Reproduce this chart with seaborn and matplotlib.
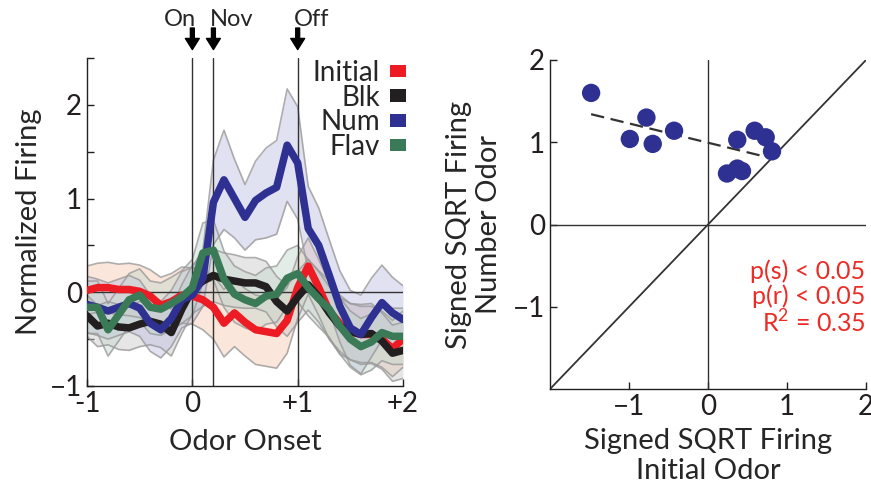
import numpy as np
import pandas as pd
import seaborn as sns
import matplotlib.pyplot as plt
from matplotlib.patches import Patch

# ---- left panel: mean normalized firing around odor onset (step 0.1 s)
time = np.round(np.arange(-1.0, 2.01, 0.1), 2)

initial = [0.02, 0.05, 0.05, 0.03, 0.03, 0.01, -0.04, -0.14, -0.10, -0.03,
           -0.04, -0.08, -0.16, -0.33, -0.22, -0.32, -0.40, -0.42, -0.44, -0.30,
           0.05, 0.28, 0.05, -0.20, -0.33, -0.42, -0.45, -0.45, -0.50, -0.60, -0.50]
blk = [-0.25, -0.36, -0.33, -0.37, -0.38, -0.34, -0.31, -0.34, -0.43, -0.18,
       0.03, 0.12, 0.18, 0.14, 0.12, 0.10, 0.10, 0.06, -0.10, -0.20,
       -0.05, 0.08, -0.05, -0.22, -0.36, -0.42, -0.45, -0.44, -0.52, -0.65, -0.62]
num = [-0.13, -0.16, -0.20, -0.16, -0.12, -0.17, -0.33, -0.40, -0.28, -0.08,
       -0.03, 0.15, 0.96, 1.20, 1.00, 0.80, 0.98, 1.06, 1.12, 1.57,
       1.38, 0.68, 0.50, 0.18, -0.15, -0.38, -0.45, -0.27, -0.11, -0.22, -0.29]
flav = [-0.16, -0.16, -0.40, -0.24, -0.08, -0.03, -0.16, -0.18, -0.12, -0.05,
        0.05, 0.42, 0.45, 0.14, -0.02, -0.08, -0.12, -0.04, -0.02, 0.15,
        0.20, 0.05, -0.07, -0.18, -0.36, -0.50, -0.58, -0.53, -0.43, -0.47, -0.47]

# standard errors (band half widths)
initial_se = [0.26, 0.26, 0.27, 0.27, 0.28, 0.28, 0.28, 0.30, 0.30, 0.30,
              0.30, 0.32, 0.34, 0.36, 0.36, 0.36, 0.37, 0.37, 0.37, 0.35,
              0.33, 0.30, 0.30, 0.30, 0.30, 0.30, 0.30, 0.30, 0.30, 0.30, 0.30]
blk_se = [0.22, 0.22, 0.23, 0.24, 0.24, 0.24, 0.25, 0.25, 0.25, 0.26,
          0.26, 0.27, 0.28, 0.28, 0.28, 0.27, 0.27, 0.27, 0.27, 0.27,
          0.27, 0.27, 0.27, 0.28, 0.30, 0.30, 0.32, 0.32, 0.30, 0.30, 0.30]
num_se = [0.30, 0.30, 0.30, 0.30, 0.30, 0.30, 0.30, 0.30, 0.30, 0.30,
          0.30, 0.30, 0.45, 0.53, 0.42, 0.35, 0.42, 0.48, 0.50, 0.60,
          0.60, 0.45, 0.40, 0.38, 0.38, 0.40, 0.42, 0.42, 0.40, 0.38, 0.36]
flav_se = [0.28, 0.28, 0.28, 0.28, 0.28, 0.28, 0.28, 0.28, 0.28, 0.28,
           0.30, 0.32, 0.32, 0.30, 0.30, 0.30, 0.30, 0.30, 0.30, 0.30,
           0.30, 0.30, 0.30, 0.30, 0.30, 0.30, 0.30, 0.30, 0.30, 0.30, 0.30]

series = ["Initial", "Blk", "Num", "Flav"]
means = [initial, blk, num, flav]
sems = [initial_se, blk_se, num_se, flav_se]
line_colors = ["#ed1c24", "#231f20", "#2e3192", "#3b7a57"]
band_colors = ["#f7c9b3", "#c9c9c9", "#bcbde0", "#c3d8cc"]

events = [0.0, 0.2, 1.0]
event_labels = ["On", "Nov", "Off"]

# ---- right panel: signed sqrt firing, initial vs number odor
x_initial = [-1.48, -0.78, -0.99, -0.70, -0.43, 0.37, 0.59, 0.73, 0.81, 0.24, 0.37, 0.43]
y_number = [1.60, 1.30, 1.04, 0.98, 1.14, 1.03, 1.14, 1.06, 0.89, 0.62, 0.68, 0.65]
stats_text = "p(s) < 0.05\np(r) < 0.05\nR$^2$ = 0.35"

sns.set_style("ticks")
plt.rcParams["font.family"] = ["Lato", "DejaVu Sans"]
plt.rcParams["mathtext.fontset"] = "custom"
plt.rcParams["mathtext.rm"] = "Lato"

fig = plt.figure(figsize=(8.71, 4.87), dpi=100)
ax1 = fig.add_axes([0.0999, 0.2074, 0.3628, 0.6735])
ax2 = fig.add_axes([0.6315, 0.2012, 0.3628, 0.6756])

# left panel
for m, s, bc in zip(means, sems, band_colors):
    m = np.array(m)
    s = np.array(s)
    ax1.fill_between(time, m - s, m + s, color=bc, alpha=0.45, lw=0, zorder=1)
    ax1.plot(time, m + s, color="#9a9a9a", lw=1.2, alpha=0.8, zorder=1.5)
    ax1.plot(time, m - s, color="#9a9a9a", lw=1.2, alpha=0.8, zorder=1.5)

ax1.axhline(0, color="#333333", lw=1, zorder=2)
for e in events:
    ax1.axvline(e, color="#333333", lw=1, zorder=2)

df = pd.DataFrame({
    "time": np.tile(time, len(series)),
    "firing": np.concatenate(means),
    "odor": np.repeat(series, len(time)),
})
sns.lineplot(data=df, x="time", y="firing", hue="odor", hue_order=series,
             palette=line_colors, linewidth=5.4, legend=False, errorbar=None,
             ax=ax1, zorder=3)

for e, lab, dx, ha in zip(events, event_labels, [0.03, -0.03, -0.04], ["right", "left", "left"]):
    ax1.annotate("", xy=(e, 2.59), xytext=(e, 2.82), annotation_clip=False,
                 arrowprops=dict(width=2.8, headwidth=10, headlength=8, color="black"))
    ax1.text(e + dx, 2.84, lab, ha=ha, va="baseline", fontsize=17, clip_on=False)

handles = [Patch(facecolor=c, edgecolor="none") for c in line_colors]
leg = ax1.legend(handles, series, loc="upper right", bbox_to_anchor=(1.01, 0.995),
                 markerfirst=False, frameon=False, fontsize=20, labelspacing=-0.04,
                 handlelength=0.6, handleheight=0.3, handletextpad=0.35,
                 borderpad=0, borderaxespad=0)

ax1.set_xlim(-1, 2)
ax1.set_ylim(-1, 2.5)
ax1.set_xticks([-1, 0, 1, 2])
ax1.set_xticklabels(["-1", "0", "+1", "+2"])
ax1.set_yticks([-1, 0, 1, 2])
ax1.set_yticks([-0.5, 0.5, 1.5, 2.5], minor=True)
ax1.set_xlabel("Odor Onset", fontsize=21, labelpad=9)
ax1.set_ylabel("Normalized Firing", fontsize=21, labelpad=6)

# right panel
ax2.axhline(0, color="#333333", lw=1, zorder=1)
ax2.axvline(0, color="#333333", lw=1, zorder=1)
ax2.axline((0, 0), slope=1, color="#333333", lw=1.3, zorder=1)
sns.regplot(x=x_initial, y=y_number, scatter=False, ci=None, ax=ax2,
            line_kws=dict(color="#333333", lw=1.6, ls=(0, (6, 3)), zorder=2))
sns.scatterplot(x=x_initial, y=y_number, color="#2e3192", s=175,
                edgecolor="none", ax=ax2, zorder=3)
ax2.text(0.998, 0.277, stats_text, transform=ax2.transAxes, ha="right", va="center",
         color="#ed2a24", fontsize=18, linespacing=1.05)

ax2.set_xlim(-2, 2)
ax2.set_ylim(-2, 2)
ax2.set_xticks([-1, 0, 1, 2])
ax2.set_yticks([-1, 0, 1, 2])
ax2.set_xlabel("Signed SQRT Firing\nInitial Odor", fontsize=21, labelpad=6, linespacing=1.2)
ax2.set_ylabel("Signed SQRT Firing\nNumber Odor", fontsize=21, labelpad=8, linespacing=1.2)

for ax in (ax1, ax2):
    sns.despine(ax=ax)
    ax.tick_params(which="both", direction="in", length=5, width=1, labelsize=20,
                   colors="#231f20")
    for sp in ("left", "bottom"):
        ax.spines[sp].set_linewidth(1)
        ax.spines[sp].set_color("#231f20")

fig.savefig("out.png", dpi=100)
